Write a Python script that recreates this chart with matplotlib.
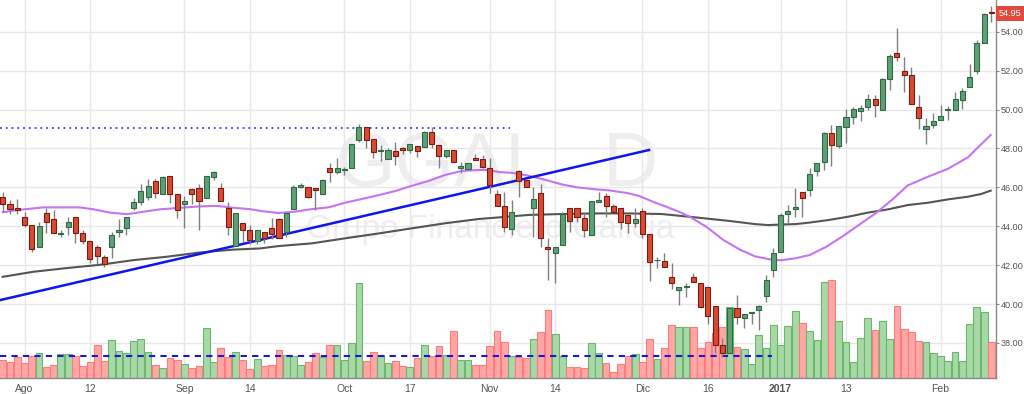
import matplotlib
matplotlib.use('Agg')
import matplotlib.pyplot as plt
from matplotlib import transforms

# ---------------- data ----------------
opens = [45.52, 45.12, 44.92, 44.46, 44.06, 42.91, 44.66, 44.37, 43.62, 43.96,
         44.46, 43.67, 43.24, 42.91, 42.42, 42.91, 43.69, 43.92, 44.92, 45.23,
         45.48, 46.34, 45.64, 46.60, 45.64, 45.12, 45.90, 45.95, 45.47, 46.51,
         45.95, 44.92, 42.98, 44.15, 43.80, 43.24, 43.68, 43.92, 44.37, 43.72,
         44.88, 46.00, 46.03, 45.98, 45.66, 46.98, 46.77, 46.90, 47.01, 48.43,
         49.12, 48.48, 47.85, 47.44, 47.87, 48.02, 47.94, 48.14, 48.06, 48.86,
         48.18, 47.61, 47.92, 47.02, 46.94, 47.49, 47.45, 46.98, 45.65, 45.04,
         43.84, 46.84, 46.38, 44.92, 45.69, 42.91, 42.64, 43.03, 44.92, 44.92,
         44.40, 43.55, 45.24, 45.55, 45.04, 44.92, 44.58, 44.15, 44.80, 43.60,
         42.24, 42.23, 41.41, 40.72, 40.87, 41.41, 41.06, 40.89, 39.90, 37.89,
         37.46, 39.81, 39.26, 39.55, 39.69, 40.40, 41.75, 42.69, 44.63, 44.90,
         45.74, 45.86, 46.86, 47.28, 48.81, 48.14, 49.12, 49.63, 49.91, 50.15,
         50.56, 49.97, 51.57, 52.92, 51.98, 51.77, 50.15, 48.98, 49.20, 49.46,
         49.99, 49.97, 50.49, 51.17, 51.98, 53.40, 54.99]
highs = [45.75, 45.35, 45.38, 44.75, 44.06, 44.23, 44.95, 44.82, 43.79, 44.46,
         44.46, 43.80, 43.24, 43.03, 42.52, 43.72, 44.35, 44.46, 45.47, 46.15,
         46.41, 46.41, 46.58, 46.60, 45.64, 45.55, 45.95, 46.15, 46.60, 46.82,
         46.20, 45.26, 44.66, 44.15, 44.06, 43.80, 43.70, 44.40, 44.44, 44.71,
         46.12, 46.20, 46.03, 45.98, 46.41, 47.23, 47.49, 47.06, 48.21, 49.24,
         49.12, 48.48, 48.17, 48.00, 48.35, 48.05, 48.21, 48.14, 48.90, 49.12,
         48.18, 47.92, 47.92, 47.32, 47.23, 47.70, 47.66, 47.49, 45.86, 45.74,
         45.35, 46.89, 46.40, 46.03, 46.17, 43.41, 42.91, 44.71, 44.92, 44.92,
         44.66, 45.31, 45.78, 45.69, 45.12, 44.92, 44.58, 44.92, 44.92, 43.60,
         42.43, 42.64, 42.09, 40.89, 41.06, 41.61, 41.06, 40.89, 39.90, 38.24,
         39.81, 40.46, 39.49, 39.60, 39.93, 41.50, 42.86, 44.66, 45.09, 45.95,
         45.74, 46.98, 47.23, 48.83, 49.20, 49.15, 50.01, 50.15, 50.23, 50.80,
         50.75, 51.64, 52.84, 54.21, 52.72, 52.20, 50.75, 49.58, 49.84, 50.23,
         50.18, 50.92, 51.09, 52.32, 53.57, 54.98, 55.34]
lows = [44.75, 44.61, 44.61, 43.98, 42.66, 42.91, 43.63, 43.63, 43.45, 43.55,
        43.12, 43.09, 42.09, 42.04, 41.92, 42.35, 43.46, 43.55, 44.83, 45.09,
        45.35, 45.47, 45.64, 45.18, 44.41, 43.89, 45.12, 43.81, 45.44, 46.38,
        45.31, 43.55, 42.98, 43.17, 43.10, 43.07, 43.12, 43.34, 43.41, 43.46,
        44.88, 45.95, 45.47, 44.83, 45.66, 46.29, 46.67, 46.63, 47.01, 48.35,
        48.00, 47.49, 47.35, 47.44, 47.15, 47.70, 47.75, 47.58, 48.06, 48.00,
        47.01, 47.49, 47.32, 46.72, 46.94, 47.42, 46.98, 45.69, 45.04, 43.72,
        43.55, 45.52, 46.00, 43.43, 42.95, 41.23, 41.06, 43.03, 43.72, 44.23,
        43.46, 43.55, 45.24, 44.49, 44.71, 43.86, 43.63, 43.98, 43.38, 41.20,
        41.83, 41.89, 40.75, 39.95, 40.34, 41.11, 39.78, 38.96, 37.46, 37.29,
        37.46, 39.00, 38.75, 38.97, 38.65, 40.10, 41.37, 42.69, 44.18, 44.46,
        44.46, 45.57, 46.58, 46.89, 47.10, 48.00, 48.30, 49.26, 49.41, 49.97,
        49.60, 49.97, 51.00, 52.51, 50.92, 50.27, 49.00, 48.21, 49.03, 49.46,
        49.46, 49.97, 50.01, 51.17, 51.83, 53.40, 54.51]
closes = [45.12, 44.88, 44.82, 44.05, 42.85, 44.03, 44.20, 43.63, 43.64, 44.23,
          43.67, 43.24, 42.30, 42.49, 42.04, 43.55, 43.81, 44.46, 45.26, 45.81,
          46.05, 45.69, 46.55, 45.64, 44.83, 45.31, 45.64, 45.30, 46.58, 46.77,
          45.31, 43.94, 44.66, 43.81, 43.27, 43.80, 43.41, 43.60, 43.41, 44.66,
          46.03, 46.12, 45.52, 45.88, 46.38, 46.77, 46.98, 46.93, 48.21, 49.12,
          48.43, 47.83, 47.92, 47.92, 47.63, 47.94, 48.21, 47.87, 48.83, 48.21,
          47.63, 47.92, 47.32, 47.08, 47.23, 47.42, 47.06, 46.12, 45.05, 43.94,
          44.71, 46.34, 46.00, 45.38, 43.41, 42.83, 42.91, 44.63, 44.27, 44.46,
          43.81, 45.31, 45.35, 45.06, 44.71, 44.23, 44.15, 44.35, 43.60, 42.18,
          42.28, 41.89, 41.10, 40.89, 40.91, 41.11, 39.86, 39.40, 37.89, 37.46,
          39.81, 39.31, 39.49, 39.59, 39.90, 41.23, 42.64, 44.58, 44.80, 45.00,
          45.43, 46.68, 47.23, 48.78, 48.18, 49.15, 49.60, 50.03, 50.08, 50.56,
          50.25, 51.59, 52.75, 52.72, 51.77, 50.27, 49.58, 49.17, 49.41, 49.68,
          50.01, 50.52, 50.97, 51.65, 53.40, 54.89, 54.95]
volumes = [354, 320, 420, 300, 434, 494, 220, 260, 474, 474,
           446, 240, 320, 666, 334, 754, 534, 506, 740, 774,
           514, 260, 194, 394, 354, 274, 206, 240, 994, 326,
           600, 414, 514, 354, 180, 374, 240, 260, 554, 454,
           434, 260, 314, 494, 414, 660, 660, 354, 694, 1894,
           334, 514, 454, 294, 334, 240, 214, 400, 660, 446,
           634, 454, 934, 354, 354, 260, 266, 646, 934, 726,
           446, 414, 406, 780, 914, 1360, 874, 446, 214, 214,
           200, 694, 506, 294, 120, 280, 446, 474, 314, 774,
           374, 600, 1060, 1026, 1026, 1026, 594, 714, 894, 1026,
           1414, 626, 574, 280, 854, 600, 1060, 654, 1046, 1334,
           1100, 934, 760, 1914, 1954, 1134, 726, 314, 794, 1206,
           966, 1134, 774, 1440, 980, 914, 740, 726, 494, 440,
           346, 514, 346, 1080, 1426, 1314, 726]

# moving averages (bar index, price)
ma_fast_x = [0, 2.4, 5.6, 8.8, 10.6, 12.5, 14.8, 17.1, 18.9, 21.6, 24.4, 27.1,
             29.4, 31.7, 34, 35.6, 37.9, 40.2, 42.5, 44.8, 47.1, 49.4, 51.7,
             54, 56.2, 58.5, 60.8, 63.1, 65.4, 66.8, 68.4, 70, 72.3, 74.5,
             76.9, 79, 81.5, 83.5, 86, 87.6, 89.5, 91.3, 93, 94.5, 96.8, 99.1,
             101.4, 103.5, 105.8, 107, 109, 111, 113.3, 115.6, 117.9, 120.2,
             122.3, 124.5, 127.3, 130, 132.8, 134, 135.9]
ma_fast_y = [44.72, 44.85, 44.97, 44.97, 44.97, 44.87, 44.70, 44.62, 44.72,
             44.87, 44.95, 45.02, 45.05, 44.95, 44.88, 44.78, 44.68, 44.75,
             44.88, 44.97, 45.21, 45.40, 45.60, 45.81, 46.07, 46.32, 46.63,
             46.84, 46.89, 46.89, 46.78, 46.75, 46.60, 46.40, 46.15, 46.00,
             45.90, 45.84, 45.70, 45.55, 45.25, 45.00, 44.75, 44.49, 43.97,
             43.30, 42.80, 42.45, 42.28, 42.25, 42.35, 42.52, 42.95, 43.50,
             44.10, 44.70, 45.35, 46.10, 46.55, 46.95, 47.55, 48.00, 48.69]
ma_slow_x = [0, 4.2, 8.8, 13.4, 18.0, 22.5, 27.1, 31.7, 35.4, 37.9, 42.5,
             47.1, 51.7, 56.2, 60.8, 65.4, 68.4, 72.3, 76.9, 81.5, 86.0,
             90.6, 95.2, 99.8, 103.5, 105.3, 107.2, 109.0, 110.8, 113.6,
             116.3, 119.0, 121.8, 124.5, 127.3, 130.0, 132.8, 134.6, 135.9]
ma_slow_y = [41.40, 41.66, 41.85, 42.02, 42.26, 42.43, 42.65, 42.80, 42.86,
             42.98, 43.12, 43.38, 43.63, 43.89, 44.15, 44.37, 44.46, 44.58,
             44.63, 44.66, 44.66, 44.63, 44.46, 44.28, 44.11, 44.06, 44.09,
             44.11, 44.18, 44.32, 44.49, 44.70, 44.87, 45.09, 45.21, 45.38,
             45.52, 45.66, 45.83]

trend_x = [-0.4, 88.9]
trend_y = [40.20, 47.92]
resist_x = [-0.4, 69.8]
resist_y = [49.03, 49.03]
avgvol_x = [-0.4, 105.8]
avgvol_y = [450, 450]

tick_pos = [3, 12, 25, 34, 47, 56, 67, 76, 88, 97, 107, 116, 129]
tick_labels = ['Ago', '12', 'Sep', '14', 'Oct', '17', 'Nov', '14', 'Dic',
               '16', '2017', '13', 'Feb']
price_ticks = [38, 40, 42, 44, 46, 48, 50, 52, 54]
last_price = 54.95

# ---------------- figure ----------------
W, H = 1024, 394
fig = plt.figure(figsize=(W / 100, H / 100), dpi=100)
ax = fig.add_axes([0, 1 - 378 / H, 996 / W, 378 / H])
ax.set_xlim(-0.371, 136.63)
ax.set_ylim(36.20, 55.63)
ax.set_autoscale_on(False)

idx = list(range(len(opens)))
GREEN, GREEN_E = '#5f9f76', '#2f6a45'
RED, RED_E = '#d84a34', '#7d1d12'
VGREEN, VGREEN_E = '#a8d7a8', '#6bb86b'
VRED, VRED_E = '#ffa6a6', '#ff7c7c'

up = [c >= o for o, c in zip(opens, closes)]

# watermark
WM = '#eeeeee'
ax.text(335 / 996, 1 - 186 / 378, 'GGAL', transform=ax.transAxes,
        fontsize=55, color=WM, family='Liberation Sans',
        ha='left', va='baseline', zorder=0.5)
ax.text(603 / 996, 1 - 186 / 378, 'D', transform=ax.transAxes,
        fontsize=55, color=WM, family='Liberation Sans',
        ha='left', va='baseline', zorder=0.5)
ax.text(490 / 996, 1 - 238 / 378, 'Grupo Financiero Galicia',
        transform=ax.transAxes, fontsize=24, color=WM,
        family='Liberation Sans', ha='center', va='baseline', zorder=0.5)

# volume (own vertical scale, bottom of the panel)
VOL_MAX = 7560
vol_tr = transforms.blended_transform_factory(
    ax.transData, transforms.Affine2D().scale(1, 1 / VOL_MAX) + ax.transAxes)
ax.bar(idx, volumes, width=0.93, bottom=0,
       color=[VGREEN if u else VRED for u in up],
       edgecolor=[VGREEN_E if u else VRED_E for u in up],
       linewidth=0.8, transform=vol_tr, zorder=1)
ax.plot(avgvol_x, avgvol_y, color='#1a1ad6', lw=1.5, ls=(0, (3, 2.5)),
        transform=vol_tr, zorder=2)

# moving averages and drawn lines
ax.plot(ma_slow_x, ma_slow_y, color='#555555', lw=1.5, zorder=2)
ax.plot(ma_fast_x, ma_fast_y, color='#c474f4', lw=1.5, zorder=2)
ax.plot(trend_x, trend_y, color='#0b16f2', lw=1.8, zorder=2.5)
ax.plot(resist_x, resist_y, color='#3b3bff', lw=1.3, ls=(0, (1, 2.2)),
        zorder=2.5)

# candles
ax.vlines(idx, lows, highs, color='#808080', lw=1.0, zorder=3)
bottoms = [min(o, c) for o, c in zip(opens, closes)]
heights = [max(abs(c - o), 0.04) for o, c in zip(opens, closes)]
ax.bar(idx, heights, bottom=bottoms, width=0.7,
       color=[GREEN if u else RED for u in up],
       edgecolor=[GREEN_E if u else RED_E for u in up],
       linewidth=0.8, zorder=4)

# axes styling
ax.set_xticks(tick_pos)
ax.set_xticklabels(tick_labels)
for lab in ax.get_xticklabels():
    lab.set_fontweight('bold' if lab.get_text() == '2017' else 'normal')
ax.set_yticks(price_ticks)
ax.set_yticklabels(['%.2f' % p for p in price_ticks])
ax.yaxis.tick_right()
ax.tick_params(axis='x', length=0, pad=4, labelsize=7.5, labelcolor='#555555')
ax.tick_params(axis='y', length=2, width=0.8, color='#888888', pad=1.5,
               labelsize=6.6, labelcolor='#555555')
for lab in ax.get_xticklabels() + ax.get_yticklabels():
    lab.set_family('Liberation Sans')
ax.grid(True, color='#e8e8e8', lw=1.0)
ax.set_axisbelow(True)
for s in ['left', 'top']:
    ax.spines[s].set_visible(False)
for s in ['right', 'bottom']:
    ax.spines[s].set_color('#8a8a8a')
    ax.spines[s].set_linewidth(1.0)

# last price tag
fig.text(999 / W, 1 - 13.5 / H, '%.2f' % last_price, color='white',
         fontsize=6.6, family='Liberation Sans', ha='left', va='center',
         bbox=dict(facecolor='#e0493b', edgecolor='none', pad=2.2))

fig.savefig('out.png', dpi=100)
